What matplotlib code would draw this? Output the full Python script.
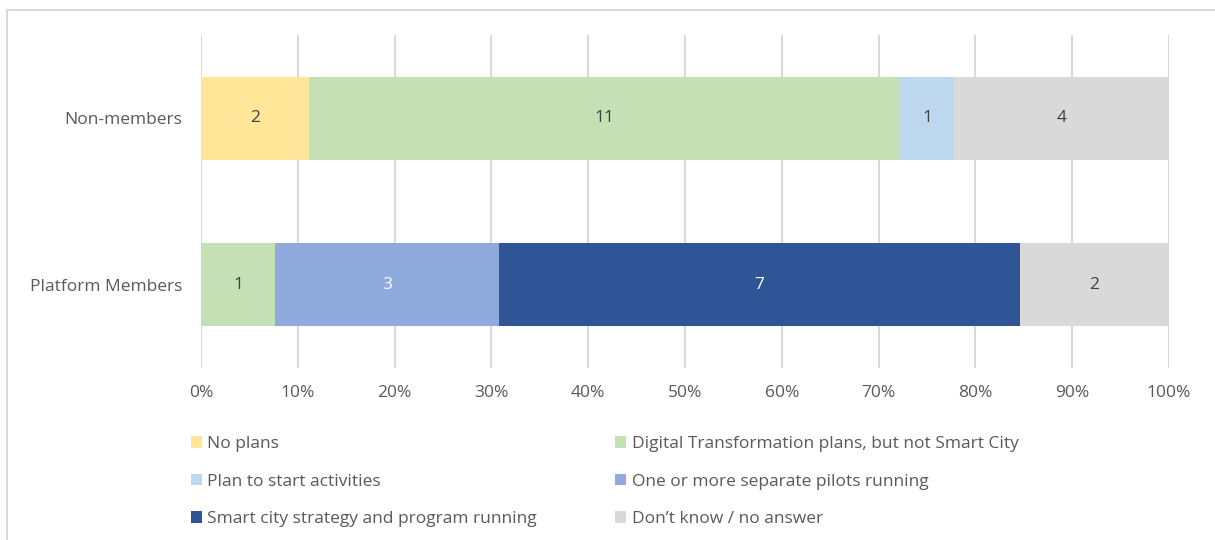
import matplotlib.pyplot as plt
import numpy as np
from matplotlib.lines import Line2D

plt.rcParams['font.family'] = ['Open Sans', 'DejaVu Sans']

groups = ['Platform Members', 'Non-members']
series = [
    'No plans',
    'Digital Transformation plans, but not Smart City',
    'Plan to start activities',
    'One or more separate pilots running',
    'Smart city strategy and program running',
    'Don\u2019t know / no answer',
]
# counts per series, order: Platform Members, Non-members
no_plans = [0, 2]
digital = [1, 11]
plan_start = [0, 1]
pilots = [3, 0]
strategy = [7, 0]
dont_know = [2, 4]
colors = ['#FFE699', '#C5E0B4', '#BDD7EE', '#8FAADC', '#2F5597', '#D9D9D9']
label_colors = ['#404040', '#404040', '#404040', 'white', 'white', '#404040']

counts = np.array([no_plans, digital, plan_start, pilots, strategy, dont_know], dtype=float)
totals = counts.sum(axis=0)
shares = counts / totals

fs = 12.5

fig = plt.figure(figsize=(12.15, 5.4), dpi=100)
ax = fig.add_axes([201 / 1215, 1 - 368 / 540, 968 / 1215, 333 / 540])

y = np.arange(len(groups))
left = np.zeros(len(groups))
handles = []
for i, name in enumerate(series):
    bars = ax.barh(y, shares[i], left=left, height=0.5, color=colors[i], label=name, zorder=3)
    for j, b in enumerate(bars):
        if counts[i, j] > 0:
            ax.text(left[j] + shares[i, j] / 2, y[j], f'{int(counts[i, j])}',
                    ha='center', va='center', fontsize=fs, color=label_colors[i], zorder=4)
    left += shares[i]
    handles.append(bars)

ax.set_xlim(0, 1)
ax.set_ylim(-0.5, 1.5)
ax.set_xticks(np.linspace(0, 1, 11))
ax.set_xticklabels([f'{int(v)}%' for v in np.linspace(0, 100, 11)])
ax.set_yticks(y)
ax.set_yticklabels(groups)
ax.tick_params(axis='both', length=0, labelsize=fs, colors='#595959')
ax.tick_params(axis='x', pad=12)
ax.tick_params(axis='y', pad=13.5)
ax.grid(axis='x', color='#D9D9D9', linewidth=1.5, zorder=0)
for s in ax.spines.values():
    s.set_visible(False)

order = [0, 2, 4, 1, 3, 5]
leg = fig.legend([handles[k] for k in order], [series[k] for k in order],
                 ncol=2, loc='upper left', bbox_to_anchor=(184 / 1215, 1 - 429 / 540),
                 frameon=False, fontsize=fs, labelcolor='#595959',
                 handlelength=0.65, handleheight=0.65, handletextpad=0.3,
                 columnspacing=4.5, labelspacing=1.25, borderaxespad=0)

# outer chart border (extends beyond the image at right and bottom)
fig.add_artist(Line2D([7 / 1215, 1.0], [1 - 10 / 540, 1 - 10 / 540], color='#D9D9D9', lw=1.5,
                      transform=fig.transFigure))
fig.add_artist(Line2D([7 / 1215, 7 / 1215], [0, 1 - 10 / 540], color='#D9D9D9', lw=1.5,
                      transform=fig.transFigure))

fig.savefig('out.png', dpi=100)
